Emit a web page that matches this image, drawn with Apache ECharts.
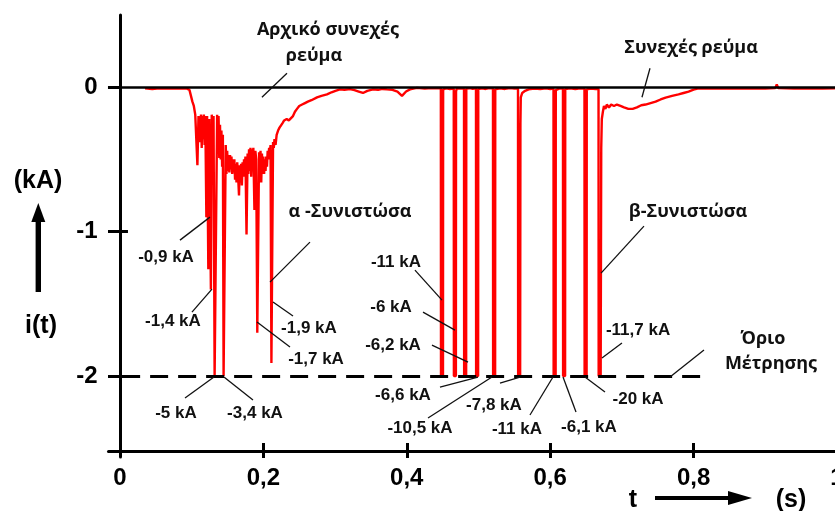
<!DOCTYPE html>
<html>
<head>
<meta charset="utf-8">
<script src="https://cdn.jsdelivr.net/npm/echarts@6/dist/echarts.min.js"></script>
<style>
  html, body { margin: 0; padding: 0; background: #fff; }
  #chart { width: 835px; height: 511px; }
</style>
</head>
<body>
<div id="chart"></div>
<script>
// Oscillograph record of the arc current i(t): [time in s, current in kA].
// Values below the measuring limit (-2 kA) are clipped at that limit.
const currentTrace = [
  [0.035,-0.008],[0.045,-0.012],[0.055,-0.008],[0.065,-0.01],[0.075,-0.007],[0.085,-0.01],[0.093,-0.008],
  [0.097,-0.02],[0.099,-0.06],[0.101,-0.1],[0.103,-0.13],[0.105,-0.19],[0.107,-0.2],[0.108,-0.54],
  [0.1095,-0.2],[0.111,-0.19],[0.112,-0.38],[0.113,-0.19],[0.114,-0.42],[0.115,-0.2],[0.116,-0.36],
  [0.117,-0.19],[0.118,-0.4],[0.119,-0.2],[0.1205,-0.9],[0.1215,-0.2],[0.1232,-1.26],[0.1245,-0.22],
  [0.1268,-1.4],[0.128,-0.19],[0.129,-0.45],[0.1305,-0.2],[0.132,-2],[0.134,-2],[0.1355,-0.19],
  [0.1365,-0.46],[0.1375,-0.2],[0.1385,-0.49],[0.1395,-0.26],[0.1405,-0.5],[0.1415,-0.3],[0.1425,-0.55],
  [0.1435,-0.33],[0.1445,-2],[0.1462,-2],[0.1475,-0.4],[0.1485,-0.6],[0.1495,-0.44],[0.1505,-0.58],
  [0.1515,-0.47],[0.1525,-0.59],[0.1535,-0.47],[0.1545,-0.57],[0.1555,-0.48],[0.1565,-0.6],[0.1575,-0.5],
  [0.1585,-0.59],[0.1595,-0.5],[0.1605,-0.64],[0.1615,-0.53],[0.1625,-0.66],[0.1635,-0.52],[0.1648,-0.62],
  [0.166,-0.75],[0.167,-0.54],[0.168,-0.66],[0.169,-0.53],[0.17,-0.68],[0.171,-0.52],[0.172,-0.62],
  [0.173,-0.5],[0.174,-0.58],[0.175,-0.48],[0.1765,-1.02],[0.178,-0.46],[0.179,-0.6],[0.18,-0.43],
  [0.181,-0.58],[0.182,-0.42],[0.183,-0.62],[0.184,-0.43],[0.185,-0.55],[0.186,-0.42],[0.1875,-0.85],
  [0.1888,-0.44],[0.19,-0.5],[0.1915,-1.7],[0.1928,-1.7],[0.194,-0.45],[0.195,-0.62],[0.196,-0.44],
  [0.197,-0.66],[0.198,-0.46],[0.199,-0.6],[0.2,-0.48],[0.201,-0.6],[0.202,-0.5],[0.203,-0.58],
  [0.204,-0.48],[0.205,-0.55],[0.206,-0.44],[0.207,-0.5],[0.208,-0.42],[0.209,-0.46],[0.21,-0.4],
  [0.2112,-1.91],[0.2125,-1.91],[0.2135,-0.38],[0.2145,-0.42],[0.2155,-0.36],[0.217,-0.4],[0.2185,-0.33],
  [0.2205,-0.3],[0.2225,-0.28],[0.2245,-0.27],[0.2265,-0.25],[0.229,-0.23],[0.2325,-0.22],[0.2355,-0.23],
  [0.238,-0.22],[0.2413,-0.2],[0.244,-0.17],[0.2469,-0.15],[0.25,-0.13],[0.254,-0.12],[0.258,-0.11],
  [0.262,-0.1],[0.267,-0.09],[0.2748,-0.07],[0.281,-0.06],[0.2887,-0.05],[0.295,-0.035],[0.3005,-0.025],
  [0.3068,-0.015],[0.313,-0.018],[0.3208,-0.013],[0.327,-0.02],[0.333,-0.03],[0.3389,-0.04],[0.345,-0.025],
  [0.3529,-0.015],[0.36,-0.018],[0.366,-0.012],[0.3724,-0.015],[0.38,-0.018],[0.387,-0.03],[0.3933,-0.06],
  [0.399,-0.03],[0.4045,-0.015],[0.4142,-0.005],[0.425,-0.01],[0.435,-0.006],
  [0.4475,-0.008],[0.4477,-2],[0.4505,-2],[0.4507,-0.015],[0.455,-0.008],[0.46,-0.012],
  [0.4655,-0.01],[0.4657,-2],[0.4685,-2],[0.4687,-0.03],[0.4695,-0.012],[0.474,-0.008],
  [0.4798,-0.01],[0.48,-2],[0.4828,-2],[0.483,-0.012],[0.488,-0.006],[0.492,-0.012],
  [0.4965,-0.008],[0.4967,-2],[0.4995,-2],[0.4997,-0.012],[0.505,-0.008],[0.51,-0.012],[0.515,-0.006],
  [0.5202,-0.01],[0.5204,-2],[0.5232,-2],[0.5234,-0.015],[0.53,-0.008],[0.537,-0.012],[0.544,-0.006],[0.55,-0.01],
  [0.5551,-0.008],[0.5553,-2],[0.5581,-2],[0.5585,-0.25],[0.559,-0.07],[0.561,-0.04],[0.565,-0.025],
  [0.57,-0.015],[0.578,-0.01],[0.586,-0.012],[0.594,-0.008],[0.6,-0.012],
  [0.6046,-0.01],[0.6048,-2],[0.6076,-2],[0.6078,-0.02],[0.6125,-0.01],
  [0.6178,-0.01],[0.618,-2],[0.6208,-2],[0.621,-0.012],[0.628,-0.008],[0.635,-0.012],[0.642,-0.008],
  [0.6478,-0.01],[0.648,-2],[0.6508,-2],[0.651,-0.015],[0.657,-0.01],[0.663,-0.012],
  [0.6674,-0.012],[0.6676,-2],[0.6704,-2],[0.6712,-0.42],[0.672,-0.22],[0.6735,-0.17],[0.675,-0.13],
  [0.677,-0.15],[0.679,-0.12],[0.682,-0.14],[0.685,-0.12],[0.689,-0.13],[0.693,-0.12],[0.698,-0.13],
  [0.703,-0.14],[0.709,-0.15],[0.715,-0.15],[0.721,-0.14],[0.727,-0.125],[0.733,-0.12],[0.74,-0.11],
  [0.747,-0.1],[0.754,-0.085],[0.761,-0.072],[0.77,-0.06],[0.779,-0.05],[0.786,-0.04],[0.793,-0.03],
  [0.8,-0.017],[0.807,-0.008],[0.82,-0.01],[0.84,-0.007],[0.86,-0.01],[0.88,-0.007],[0.9,-0.01],
  [0.914,-0.006],[0.916,0.02],[0.918,-0.006],[0.94,-0.01],[0.96,-0.007],[0.98,-0.01],[1.0,-0.008]
];

// Axis ticks
const timeTicks = [0.2, 0.4, 0.6, 0.8, 1];
const timeLabels = [0, 0.2, 0.4, 0.6, 0.8, 1];
const currentTicks = [0, -1, -2];
const currentInnerTicks = [-1, -2];

// Measuring limit of the recorder and the stretch over which it is drawn
const measureLimit = -2;
const limitSpan = [0.003, 0.812];

// Annotations: text, its centre [t, i], and an optional leader line [from, to]
const notes = [
  { text: 'Αρχικό συνεχές', kind: 'title', at: [0.2901, 0.3945] },
  { text: 'ρεύμα', kind: 'title', at: [0.2706, 0.2145], leader: [[0.2329, 0.0969], [0.1980, -0.0692]] },
  { text: 'Συνεχές ρεύμα', kind: 'title', at: [0.7964, 0.2699], leader: [[0.7392, 0.1315], [0.7280, -0.0692]] },
  { text: 'α -Συνιστώσα', kind: 'title', at: [0.3208, -0.8651], leader: [[0.2650, -1.0727], [0.2092, -1.3495]] },
  { text: 'β-Συνιστώσα', kind: 'title', at: [0.7922, -0.8651], leader: [[0.7308, -0.9619], [0.6709, -1.2872]] },
  { text: 'Όριο', kind: 'title', at: [0.8968, -1.7439] },
  { text: 'Μέτρησης', kind: 'title', at: [0.9079, -1.9170], leader: [[0.8145, -1.8201], [0.7671, -2.0069]] },
  { text: '-0,9 kA', kind: 'value', at: [0.0642, -1.1765], leader: [[0.0837, -1.0588], [0.1255, -0.8997]] },
  { text: '-1,4 kA', kind: 'value', at: [0.0739, -1.6194], leader: [[0.1004, -1.5571], [0.1283, -1.3979]] },
  { text: '-5 kA', kind: 'value', at: [0.0781, -2.2561], leader: [[0.0907, -2.1522], [0.1311, -2.0069]] },
  { text: '-3,4 kA', kind: 'value', at: [0.1883, -2.2561], leader: [[0.1855, -2.1661], [0.1450, -2.0069]] },
  { text: '-1,9 kA', kind: 'value', at: [0.2636, -1.6678], leader: [[0.2413, -1.5848], [0.2134, -1.4879]] },
  { text: '-1,7 kA', kind: 'value', at: [0.2734, -1.8824], leader: [[0.2371, -1.7993], [0.1911, -1.6263]] },
  { text: '-11 kA', kind: 'value', at: [0.3849, -1.2111], leader: [[0.4114, -1.2664], [0.4491, -1.4740]] },
  { text: '-6 kA', kind: 'value', at: [0.3780, -1.5225], leader: [[0.4226, -1.5571], [0.4672, -1.6817]] },
  { text: '-6,2 kA', kind: 'value', at: [0.3808, -1.7855], leader: [[0.4351, -1.7855], [0.4854, -1.9031]] },
  { text: '-6,6 kA', kind: 'value', at: [0.3947, -2.1315], leader: [[0.4463, -2.0761], [0.4993, -2.0069]] },
  { text: '-10,5 kA', kind: 'value', at: [0.4184, -2.3599], leader: [[0.4296, -2.2907], [0.5188, -2.0069]] },
  { text: '-7,8 kA', kind: 'value', at: [0.5216, -2.2007], leader: [[0.5300, -2.0484], [0.5579, -2.0069]] },
  { text: '-11 kA', kind: 'value', at: [0.5537, -2.3668], leader: [[0.5718, -2.2699], [0.6039, -2.0069]] },
  { text: '-6,1 kA', kind: 'value', at: [0.6541, -2.3529], leader: [[0.6360, -2.2491], [0.6179, -2.0069]] },
  { text: '-20 kA', kind: 'value', at: [0.7225, -2.1592], leader: [[0.6764, -2.1107], [0.6485, -2.0069]] },
  { text: '-11,7 kA', kind: 'value', at: [0.7225, -1.6817], leader: [[0.7001, -1.7716], [0.6722, -1.8754]] }
];

const X_MIN = -0.016, X_MAX = 1.0;
const Y_MIN = -2.5606, Y_MAX = 0.5;

const SANS = '"Liberation Sans", Arial, sans-serif';
const tickFont = { fontFamily: SANS, fontWeight: 'bold', fontSize: 24, color: '#000' };
const INK = '#000';

const chart = echarts.init(document.getElementById('chart'), null, { renderer: 'canvas' });

const commaNumber = v => String(Math.round(v * 10) / 10).replace('.', ',');

chart.setOption({
  animation: false,
  backgroundColor: '#fff',
  grid: {
    left: 108.5, top: 15, width: 728.5, height: 442,
    containLabel: false, outerBoundsMode: 'none'
  },
  xAxis: [
    {
      type: 'value', min: X_MIN, max: X_MAX, position: 'bottom', offset: -6,
      axisLine: { onZero: false, lineStyle: { color: INK, width: 3 } },
      axisTick: { show: true, inside: false, length: 7, customValues: timeTicks, lineStyle: { color: INK, width: 3 } },
      axisLabel: { customValues: timeLabels, formatter: commaNumber, margin: 15, hideOverlap: false, ...tickFont },
      splitLine: { show: false }
    },
    {
      type: 'value', min: X_MIN, max: X_MAX, position: 'bottom', offset: -6,
      axisLine: { show: false, onZero: false },
      axisTick: { show: true, inside: true, length: 8, customValues: timeTicks, lineStyle: { color: INK, width: 3 } },
      axisLabel: { show: false },
      splitLine: { show: false }
    }
  ],
  yAxis: [
    {
      type: 'value', min: Y_MIN, max: Y_MAX, position: 'left',
      axisLine: { onZero: true, onZeroAxisIndex: 0, lineStyle: { color: INK, width: 3 } },
      axisTick: { show: true, inside: false, length: 12, customValues: currentTicks, lineStyle: { color: INK, width: 3 } },
      axisLabel: { customValues: currentTicks, formatter: v => String(v), margin: 11, padding: [8, 0, 0, 0], ...tickFont },
      splitLine: { show: false }
    },
    {
      type: 'value', min: Y_MIN, max: Y_MAX, position: 'left',
      axisLine: { show: false, onZero: true, onZeroAxisIndex: 0 },
      axisTick: { show: true, inside: true, length: 8, customValues: currentInnerTicks, lineStyle: { color: INK, width: 3 } },
      axisLabel: { show: false },
      splitLine: { show: false }
    }
  ],
  series: [
    {
      name: 'i(t)', type: 'line', data: currentTrace,
      xAxisIndex: 0, yAxisIndex: 0,
      showSymbol: false, symbol: 'none', silent: true, z: 2,
      lineStyle: { color: '#ff0000', width: 2.4 }
    },
    {
      name: 'reference', type: 'line', data: [], xAxisIndex: 0, yAxisIndex: 0, z: 4, silent: true,
      markLine: {
        silent: true, symbol: 'none', label: { show: false }, animation: false,
        data: [
          { yAxis: 0, lineStyle: { color: INK, width: 2.5, type: 'solid' } },
          [
            { coord: [limitSpan[0], measureLimit], lineStyle: { color: INK, width: 3, type: [18, 10] } },
            { coord: [limitSpan[1], measureLimit] }
          ]
        ]
      }
    }
  ]
});

// Annotations, placed through the chart's own coordinate system
const toPx = p => chart.convertToPixel({ xAxisIndex: 0, yAxisIndex: 0 }, p);
const fonts = {
  title: 'bold 18px "Open Sans", "Liberation Sans", sans-serif',
  value: 'bold 17px "Liberation Sans", Arial, sans-serif'
};
const graphics = [];
notes.forEach(n => {
  if (n.leader) {
    const a = toPx(n.leader[0]), b = toPx(n.leader[1]);
    graphics.push({
      type: 'line', silent: true, z: 10,
      shape: { x1: a[0], y1: a[1], x2: b[0], y2: b[1] },
      style: { stroke: '#111', lineWidth: 1.3 }
    });
  }
  const c = toPx(n.at);
  graphics.push({
    type: 'text', silent: true, z: 10, x: c[0], y: c[1],
    style: {
      text: n.text, font: fonts[n.kind], fill: '#111',
      align: 'center', verticalAlign: 'middle',
      textAlign: 'center', textVerticalAlign: 'middle'
    }
  });
});

// Axis titles with their arrows
const axisTitleFont = 'bold 25px ' + SANS;
const centred = { align: 'center', verticalAlign: 'middle', textAlign: 'center', textVerticalAlign: 'middle', fill: INK };
graphics.push(
  { type: 'text', x: 38, y: 181, style: { text: '(kA)', font: axisTitleFont, ...centred } },
  { type: 'polygon', shape: { points: [[38.3, 203], [31.3, 222], [45.3, 222]] }, style: { fill: INK } },
  { type: 'rect', shape: { x: 35.6, y: 221, width: 5.4, height: 71 }, style: { fill: INK } },
  { type: 'text', x: 41, y: 326, style: { text: 'i(t)', font: axisTitleFont, ...centred } },
  { type: 'text', x: 633, y: 500, style: { text: 't', font: axisTitleFont, ...centred } },
  { type: 'rect', shape: { x: 655, y: 496, width: 77, height: 4 }, style: { fill: INK } },
  { type: 'polygon', shape: { points: [[752, 498], [728, 491], [728, 505]] }, style: { fill: INK } },
  { type: 'text', x: 791, y: 500, style: { text: '(s)', font: axisTitleFont, ...centred } }
);

chart.setOption({ graphic: graphics });
</script>
</body>
</html>
